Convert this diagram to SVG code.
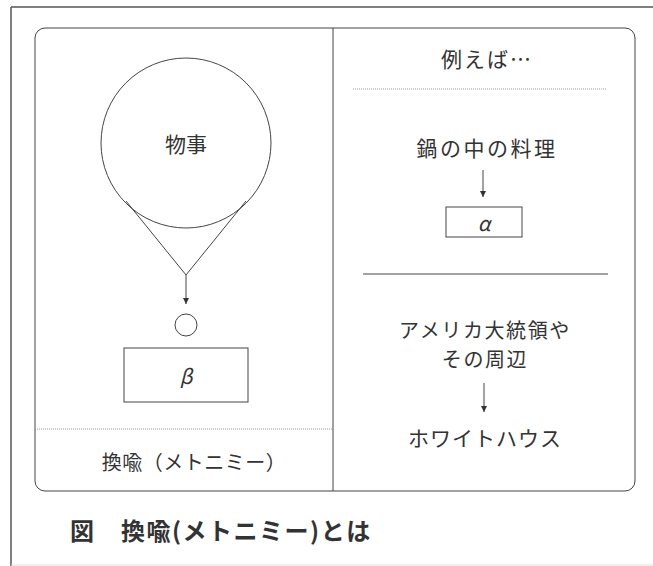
<svg xmlns="http://www.w3.org/2000/svg" width="653" height="566" viewBox="0 0 653 566">
<style>
  .t { font-family: "Noto Sans CJK JP", "Noto Sans", sans-serif; fill: #333; text-anchor: middle; dominant-baseline: central; }
  .ln { stroke: #444; stroke-width: 1; fill: none; }
  .box { stroke: #444; stroke-width: 1; fill: #fff; }
  .dot { stroke: #999; stroke-width: 1; stroke-dasharray: 1 1; fill: none; }
</style>
<defs>
  <marker id="ah" viewBox="0 0 6 6" refX="6" refY="3" markerWidth="6" markerHeight="6" orient="auto" markerUnits="userSpaceOnUse">
    <path d="M0,0 L6,3 L0,6 Z" fill="#333"/>
  </marker>
</defs>
<rect width="653" height="566" fill="#fff"/>
<g id="frame">
  <line x1="11" y1="7" x2="653" y2="7" stroke="#555" stroke-width="1.5"/>
  <line x1="11" y1="7" x2="11" y2="566" stroke="#555" stroke-width="1.5"/>
  <line x1="11" y1="565" x2="653" y2="565" stroke="#e2e2e2" stroke-width="1"/>
  <rect x="35" y="28" width="600" height="463" rx="10" class="ln"/>
  <line x1="333" y1="28" x2="333" y2="491" class="ln"/>
</g>
<g id="left-panel">
  <g id="node-monogoto">
    <circle cx="186" cy="143" r="85" class="ln"/>
    <text x="186" y="143" class="t" font-size="21">物事</text>
  </g>
  <g id="node-small">
    <circle cx="186" cy="325" r="11" class="ln" stroke="#777"/>
  </g>
  <g id="node-beta">
    <rect x="124" y="348" width="124" height="54" class="box"/>
    <text x="186" y="375" class="t" font-size="20" font-style="italic">β</text>
  </g>
  <line x1="35" y1="429" x2="333" y2="429" class="dot"/>
  <g id="label-left">
    <text x="194" y="461" class="t" font-size="20" letter-spacing="0.5">換喩（メトニミー）</text>
  </g>
</g>
<g id="right-panel">
  <g id="label-example">
    <text x="487" y="58" class="t" font-size="21" letter-spacing="2">例えば…</text>
  </g>
  <line x1="353" y1="89" x2="607" y2="89" class="dot"/>
  <g id="node-nabe">
    <text x="487" y="147" class="t" font-size="21" letter-spacing="2.5">鍋の中の料理</text>
  </g>
  <g id="node-alpha">
    <rect x="446" y="207" width="76" height="30" class="box"/>
    <text x="484" y="222" class="t" font-size="20" font-style="italic">α</text>
  </g>
  <line x1="363" y1="274" x2="608" y2="274" class="ln"/>
  <g id="node-president">
    <text x="485" y="329" class="t" font-size="20" letter-spacing="1.6">アメリカ大統領や</text>
    <text x="485" y="358" class="t" font-size="20" letter-spacing="1.6">その周辺</text>
  </g>
  <g id="node-whitehouse">
    <text x="485" y="437" class="t" font-size="21" letter-spacing="1">ホワイトハウス</text>
  </g>
</g>
<g id="connectors">
  <polyline points="126,201 186,275 246,201" class="ln"/>
  <line x1="186" y1="275" x2="186" y2="304" class="ln" marker-end="url(#ah)"/>
  <line x1="483" y1="170" x2="483" y2="197" class="ln" marker-end="url(#ah)"/>
  <line x1="484" y1="383" x2="484" y2="412" class="ln" marker-end="url(#ah)"/>
</g>
<g id="title">
  <text x="70" y="529" font-family="Noto Sans CJK JP, Noto Sans, sans-serif" font-size="24" font-weight="bold" fill="#333" letter-spacing="1.5" dominant-baseline="central">図　換喩(メトニミー)とは</text>
</g>
</svg>
